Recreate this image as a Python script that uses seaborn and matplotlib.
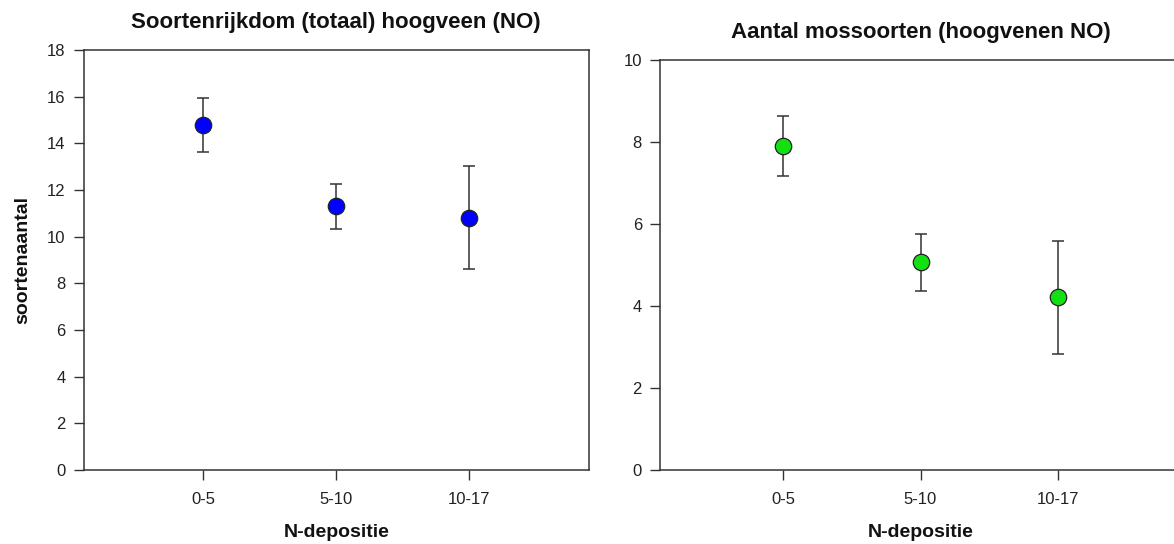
import matplotlib
matplotlib.use("Agg")
import matplotlib.pyplot as plt
import seaborn as sns
import pandas as pd
import numpy as np

categories = ["0-5", "5-10", "10-17"]

totaal_mean = [14.78, 11.30, 10.81]
totaal_low = [13.63, 10.33, 8.61]
totaal_high = [15.94, 12.25, 13.03]

mos_mean = [7.91, 5.07, 4.21]
mos_low = [7.18, 4.36, 2.84]
mos_high = [8.64, 5.76, 5.58]

left_yticks = [0, 2, 4, 6, 8, 10, 12, 14, 16, 18]
right_yticks = [0, 2, 4, 6, 8, 10]

sns.set_style("white")
plt.rcParams["font.family"] = ["Liberation Sans", "DejaVu Sans"]

fig = plt.figure(figsize=(11.74, 5.44), dpi=100)
W, H = 1174, 544
ax1 = fig.add_axes([83.5 / W, (H - 470) / H, (589 - 83.5) / W, (470 - 50) / H])
ax2 = fig.add_axes([660 / W, (H - 470) / H, (1181 - 660) / W, (470 - 60) / H])

edge = "#222222"


def panel(ax, mean, low, high, color, ylim, yticks, title, ylabel):
    df = pd.DataFrame({"cat": categories, "val": mean})
    err = np.array([np.array(mean) - np.array(low), np.array(high) - np.array(mean)])
    ax.errorbar(categories, mean, yerr=err, fmt="none", ecolor="#333333",
                elinewidth=1.1, capsize=4, capthick=1.1, zorder=2)
    sns.scatterplot(data=df, x="cat", y="val", ax=ax, color=color, s=140,
                    edgecolor=edge, linewidth=0.9, zorder=3, legend=False)
    ax.set_xlim(-0.9, 2.9)
    ax.set_ylim(*ylim)
    ax.set_yticks(yticks)
    ax.set_yticklabels([str(t) for t in yticks])
    for s in ax.spines.values():
        s.set_color("#333333")
        s.set_linewidth(1.1)
        s.set_visible(True)
    ax.tick_params(axis="both", direction="out", length=7.5, width=1.0,
                   color="#333333", labelsize=12, labelcolor="#222222",
                   left=True, bottom=True)
    ax.tick_params(axis="y", pad=5.5)
    ax.tick_params(axis="x", pad=8.5)
    ax.set_xlabel("N-depositie", fontsize=14, fontweight="bold", labelpad=12,
                  color="#111111")
    ax.set_ylabel(ylabel, fontsize=14, fontweight="bold", labelpad=11.5,
                  color="#111111")
    ax.set_title(title, fontsize=16, fontweight="bold", pad=15.5, color="#111111")


panel(ax1, totaal_mean, totaal_low, totaal_high, "#0000FF", (0, 18), left_yticks,
      "Soortenrijkdom (totaal) hoogveen (NO)", "soortenaantal")
panel(ax2, mos_mean, mos_low, mos_high, "#11E011", (0, 10), right_yticks,
      "Aantal mossoorten (hoogvenen NO)", "")

fig.savefig("out.png", dpi=100)
